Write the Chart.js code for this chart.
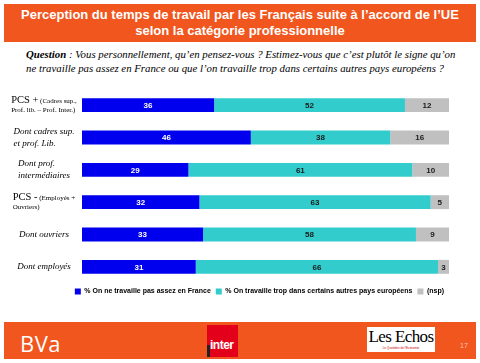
<!DOCTYPE html>
<html>
<head>
<meta charset="utf-8">
<script src="https://cdn.jsdelivr.net/npm/chart.js@4/dist/chart.umd.min.js"></script>
<style>
	body { margin: 0; width: 480px; height: 363px; background: #fff; position: relative; overflow: hidden; font-family: "Liberation Sans", Arial, sans-serif; }
	.bandeau { position: absolute; left: 4px; width: 472px; background: #f0561e; }
	#titre { top: 4px; height: 38px; color: #fff; font-weight: bold; font-size: 13px; line-height: 16px; text-align: center; padding-top: 3px; box-sizing: border-box; }
	#question { position: absolute; left: 26px; top: 47px; width: 450px; font-family: "Liberation Serif", serif; font-style: italic; font-size: 10.8px; line-height: 14px; color: #000; white-space: nowrap; }
	#zone { position: absolute; left: 0; top: 88px; width: 480px; height: 218px; }
	#pied { top: 322px; height: 37px; }
	#bva { position: absolute; left: 20px; top: 328px; color: #fff; font-family: "Open Sans", sans-serif; font-size: 22px; letter-spacing: 0.5px; }
	#inter { position: absolute; left: 207px; top: 325px; width: 31px; height: 32px; background: #e3001b; }
	#inter span { position: absolute; left: 3px; top: 13px; color: #fff; font-weight: bold; font-size: 12px; letter-spacing: -0.5px; }
	#inter i { position: absolute; left: 0; top: 20px; width: 3px; height: 12px; background: #222; }
	#echos { position: absolute; left: 367px; top: 327px; width: 68px; height: 25px; background: #fff; text-align: center; }
	#echos span { display: block; font-family: "Liberation Serif", serif; font-size: 17px; line-height: 19px; color: #000; letter-spacing: -0.6px; }
	#echos small { display: block; font-size: 3px; color: #c00; line-height: 4px; }
	#page { position: absolute; left: 460px; top: 342px; font-size: 7px; color: #fbc7ae; }
</style>
</head>
<body>
<div id="titre" class="bandeau">Perception du temps de travail par les Français suite à l’accord de l’UE<br>selon la catégorie professionnelle</div>
<div id="question"><b>Question</b> : Vous personnellement, qu’en pensez-vous ? Estimez-vous que c’est plutôt le signe qu’on<br>ne travaille pas assez en France ou que l’on travaille trop dans certains autres pays européens ?</div>
<div id="zone"><canvas id="graphique"></canvas></div>
<div id="pied" class="bandeau"></div>
<div id="bva">BVa</div>
<div id="inter"><i></i><span>inter</span></div>
<div id="echos"><span>Les Echos</span><small>Le Quotidien de l'Economie</small></div>
<div id="page">17</div>

<script>
//
// Données du graphique.
//
const categories = [
	[ "PCS + (Cadres sup.,", "Prof. lib. – Prof. Inter.)" ],
	[ "Dont cadres sup.", "et prof. Lib." ],
	[ "Dont prof.", "intermédiaires" ],
	[ "PCS - (Employés +", "Ouvriers)" ],
	[ "Dont ouvriers" ],
	[ "Dont employés" ]
];

const series_names = [
	"% On ne travaille pas assez en France",
	"% On travaille trop dans certains autres pays européens",
	"(nsp)"
];

const pas_assez = [ 36, 46, 29, 32, 33, 31 ];
const trop_ailleurs = [ 52, 38, 61, 63, 58, 66 ];
const nsp = [ 12, 16, 10, 5, 9, 3 ];

const colors = [ "#0000ee", "#33cccc", "#c0c0c0" ];
const value_colors = [ "#ffffff", "#1a1a1a", "#1a1a1a" ];

//
// Libellés des catégories dessinés à gauche des barres.
//
const category_labels = {
	id: "category_labels",
	afterDraw( chart )
	{
		const ctx = chart.ctx;
		const scale = chart.scales.y;
		const serif = "\"Liberation Serif\", serif";

		ctx.save();
		ctx.fillStyle = "#000";
		ctx.textBaseline = "middle";
		ctx.textAlign = "left";

		categories.forEach( ( lines, indice ) =>
		{
			const center = scale.getPixelForValue( indice );
			const is_pcs = lines[ 0 ].startsWith( "PCS" );
			const spacing = is_pcs ? 10 : 12;
			const small = "7px " + serif;
			const big = "10.5px " + serif;
			const italic = "italic 9px " + serif;

			// Mesure des lignes pour centrer le bloc.
			const widths = lines.map( ( line, n ) =>
			{
				if ( is_pcs && n === 0 )
				{
					ctx.font = big;
					const w1 = ctx.measureText( line.slice( 0, 5 ) ).width;
					ctx.font = small;
					return w1 + ctx.measureText( line.slice( 5 ) ).width;
				}
				ctx.font = is_pcs ? small : italic;
				return ctx.measureText( line ).width;
			} );

			const left = 44 - Math.max( ...widths ) / 2;
			let y = center - ( lines.length - 1 ) * spacing / 2;

			lines.forEach( ( line, n ) =>
			{
				if ( is_pcs && n === 0 )
				{
					ctx.font = big;
					ctx.fillText( line.slice( 0, 5 ), left, y );
					const w1 = ctx.measureText( line.slice( 0, 5 ) ).width;
					ctx.font = small;
					ctx.fillText( line.slice( 5 ), left + w1, y + 0.5 );
				}
				else
				{
					ctx.font = is_pcs ? small : italic;
					ctx.fillText( line, left, y );
				}
				y += spacing;
			} );
		} );

		ctx.restore();
	}
};

//
// Valeurs inscrites au centre de chaque segment.
//
const bar_values = {
	id: "bar_values",
	afterDatasetsDraw( chart )
	{
		const ctx = chart.ctx;

		ctx.save();
		ctx.font = "bold 8px \"Liberation Sans\", Arial, sans-serif";
		ctx.textAlign = "center";
		ctx.textBaseline = "middle";

		chart.data.datasets.forEach( ( dataset, d ) =>
		{
			chart.getDatasetMeta( d ).data.forEach( ( bar, i ) =>
			{
				ctx.fillStyle = value_colors[ d ];
				ctx.fillText( dataset.data[ i ], ( bar.x + bar.base ) / 2, bar.y + 0.5 );
			} );
		} );

		ctx.restore();
	}
};

new Chart( document.getElementById( "graphique" ),
	{
		type: "bar",
		data: {
			labels: categories,
			datasets: [
				{ label: series_names[ 0 ], data: pas_assez, backgroundColor: colors[ 0 ] },
				{ label: series_names[ 1 ], data: trop_ailleurs, backgroundColor: colors[ 1 ] },
				{ label: series_names[ 2 ], data: nsp, backgroundColor: colors[ 2 ] }
			]
		},
		plugins: [ category_labels, bar_values ],
		options: {
			indexAxis: "y",
			responsive: true,
			maintainAspectRatio: false,
			animation: false,
			layout: {
				padding: { top: 1, left: 0, right: 31, bottom: 1 }
			},
			datasets: {
				bar: {
					categoryPercentage: 1,
					barPercentage: 0.43,
					borderWidth: 0
				}
			},
			plugins: {
				tooltip: { enabled: false },
				legend: {
					display: true,
					position: "bottom",
					align: "end",
					labels: {
						color: "#000",
						boxWidth: 6,
						boxHeight: 6,
						padding: 5,
						font: {
							size: 7,
							family: "\"Liberation Sans\", Arial, sans-serif",
							weight: "bold"
						}
					}
				}
			},
			scales: {
				x: { display: false, stacked: true, min: 0, max: 100 },
				y: {
					// Axe Y invisible : sert uniquement à réserver la place des libellés.
					stacked: true,
					grid: { display: false },
					border: { display: false },
					ticks: { display: false },
					afterFit( scale ) { scale.width = 82; }
				}
			}
		}
	} );
</script>
</body>
</html>
